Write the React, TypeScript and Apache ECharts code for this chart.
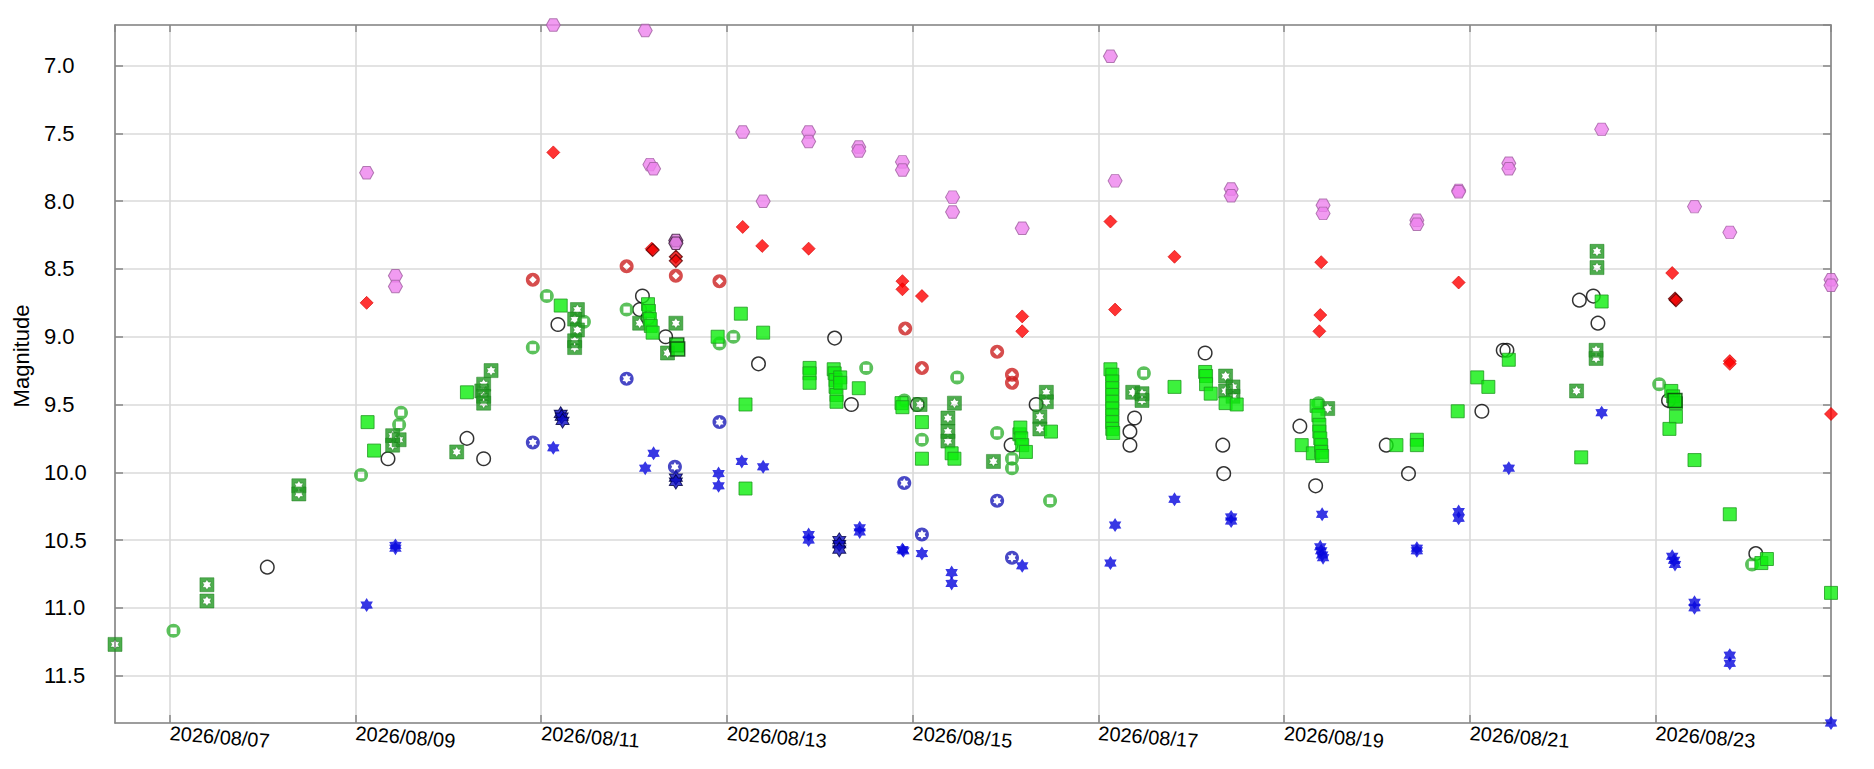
import React, { useEffect, useRef } from "react";
import * as echarts from "echarts";

// Observations as [August day 2026 (UT, decimal), magnitude]

// Visual estimates (black open circles)
const visualObs: [number, number][] = [
  [8.05, 10.7], [9.35, 9.9], [10.2, 9.75], [10.38, 9.9], [11.18, 8.91], [12.09, 8.7], [12.06, 8.8],
  [12.15, 8.86], [12.34, 9.0], [13.34, 9.2], [14.16, 9.01], [14.34, 9.5], [15.05, 9.5], [16.06, 9.8],
  [16.33, 9.5], [17.39, 9.6], [17.34, 9.7], [17.34, 9.8], [18.15, 9.12], [18.34, 9.8], [18.35, 10.01],
  [19.17, 9.66], [19.34, 10.1], [20.1, 9.8], [20.34, 10.01], [21.13, 9.55], [21.36, 9.1], [21.4, 9.1],
  [22.18, 8.73], [22.33, 8.7], [22.38, 8.9], [23.14, 9.47], [24.08, 10.6],
];

// I band (violet hexagons)
const iHex: [number, number][] = [
  [9.12, 7.79], [9.43, 8.55], [9.43, 8.63], [11.13, 6.7], [12.12, 6.74], [12.17, 7.73], [12.21, 7.76],
  [13.17, 7.49], [13.88, 7.49], [13.88, 7.56], [14.42, 7.6], [14.42, 7.63], [14.89, 7.71], [14.89, 7.77],
  [15.43, 7.97], [15.43, 8.08], [13.39, 8.0], [16.18, 8.2], [17.13, 6.93], [17.18, 7.85], [18.43, 7.91],
  [18.43, 7.96], [19.42, 8.03], [19.42, 8.09], [20.43, 8.14], [20.43, 8.17], [20.88, 7.92], [20.88, 7.93],
  [21.42, 7.72], [21.42, 7.76], [22.42, 7.47], [23.42, 8.04], [23.8, 8.23], [24.89, 8.58], [24.89, 8.62],
];
const iHexDark: [number, number][] = [[12.45, 8.29], [12.45, 8.31]];

// R band (red diamonds)
const rDiamond: [number, number][] = [
  [9.12, 8.75], [11.13, 7.64], [12.19, 8.35], [13.17, 8.19], [13.38, 8.33], [13.88, 8.35], [14.89, 8.59],
  [14.89, 8.65], [15.1, 8.7], [16.18, 8.85], [16.18, 8.96], [17.13, 8.15], [17.18, 8.8], [17.82, 8.41],
  [19.4, 8.45], [19.39, 8.84], [19.38, 8.96], [20.88, 8.6], [23.18, 8.53], [23.8, 9.18], [23.8, 9.2],
  [24.89, 9.57],
];
const rDiamondDark: [number, number][] = [[12.2, 8.36], [12.45, 8.41], [12.45, 8.44], [23.21, 8.72], [23.22, 8.73]];

// R band, other source (red rings)
const rRing: [number, number][] = [
  [10.91, 8.58], [11.92, 8.48], [12.45, 8.55], [12.92, 8.59], [14.92, 8.94], [15.1, 9.23], [15.91, 9.11],
  [16.07, 9.28], [16.07, 9.34],
];

// V band, other source (green rings)
const vRing: [number, number][] = [
  [7.04, 11.17], [9.06, 10.02], [9.47, 9.65], [9.49, 9.56], [10.91, 9.08], [11.06, 8.7], [11.46, 8.89],
  [11.92, 8.8], [12.92, 9.05], [13.07, 9.0], [14.5, 9.23], [14.91, 9.47], [15.1, 9.76], [15.48, 9.3],
  [15.91, 9.71], [16.07, 9.9], [16.07, 9.97], [16.48, 10.21], [17.49, 9.27], [19.37, 9.49], [23.04, 9.35],
  [24.04, 10.68],
];

// V band, CCD (green squares with star)
const vStarSquare: [number, number][] = [
  [6.41, 11.27], [7.4, 10.83], [7.4, 10.95], [8.39, 10.1], [8.39, 10.16], [9.4, 9.73], [9.4, 9.8],
  [9.47, 9.76], [10.09, 9.85], [10.36, 9.4], [10.38, 9.35], [10.38, 9.44], [10.38, 9.49], [10.46, 9.25],
  [11.39, 8.8], [11.36, 8.87], [11.39, 8.95], [11.36, 9.03], [11.36, 9.08], [12.06, 8.9], [12.45, 8.9],
  [12.36, 9.12], [15.08, 9.5], [15.38, 9.6], [15.38, 9.7], [15.38, 9.77], [15.45, 9.49], [15.87, 9.92],
  [16.37, 9.59], [16.37, 9.68], [16.44, 9.41], [16.44, 9.48], [17.37, 9.41], [17.47, 9.42], [17.47, 9.47],
  [18.37, 9.29], [18.37, 9.4], [18.45, 9.37], [18.45, 9.44], [19.47, 9.53], [22.15, 9.4], [22.37, 8.37],
  [22.37, 8.49], [22.36, 9.1], [22.36, 9.16],
];

// V band (filled green squares)
const vSquare: [number, number][] = [
  [9.13, 9.63], [9.2, 9.84], [10.2, 9.41], [11.21, 8.77], [12.15, 8.76], [12.16, 8.81], [12.17, 8.87],
  [12.18, 8.92], [12.2, 8.97], [12.9, 9.0], [13.15, 8.83], [13.39, 8.97], [13.2, 9.5], [13.2, 10.12],
  [13.89, 9.23], [13.89, 9.27], [13.89, 9.34], [14.15, 9.24], [14.16, 9.27], [14.17, 9.32], [14.17, 9.37],
  [14.18, 9.43], [14.18, 9.48], [14.22, 9.3], [14.22, 9.34], [14.42, 9.38], [14.88, 9.49], [14.89, 9.52],
  [15.1, 9.63], [15.1, 9.9], [15.42, 9.86], [15.45, 9.9], [16.15, 9.72], [16.16, 9.67], [16.17, 9.75],
  [16.18, 9.8], [16.22, 9.85], [16.49, 9.7], [17.13, 9.24], [17.15, 9.28], [17.15, 9.33], [17.15, 9.38],
  [17.15, 9.43], [17.15, 9.48], [17.15, 9.53], [17.15, 9.58], [17.15, 9.63], [17.15, 9.68], [17.16, 9.71],
  [17.82, 9.37], [18.15, 9.26], [18.16, 9.29], [18.16, 9.35], [18.21, 9.42], [18.37, 9.49], [18.49, 9.5],
  [19.19, 9.8], [19.31, 9.86], [19.35, 9.51], [19.37, 9.58], [19.38, 9.65], [19.38, 9.7], [19.39, 9.75],
  [19.4, 9.8], [19.4, 9.85], [19.41, 9.88], [20.21, 9.8], [20.43, 9.76], [20.43, 9.8], [20.87, 9.55],
  [21.08, 9.3], [21.2, 9.37], [21.42, 9.17], [22.2, 9.89], [22.42, 8.74], [23.17, 9.4], [23.19, 9.44],
  [23.22, 9.49], [23.22, 9.59], [23.15, 9.68], [23.42, 9.91], [23.8, 10.31], [24.14, 10.67], [24.2, 10.64],
  [24.89, 10.89],
];
const vSquareDark: [number, number][] = [[12.46, 9.06], [12.47, 9.09], [23.21, 9.47]];

// B band (blue stars)
const bStar: [number, number][] = [
  [9.12, 10.98], [9.43, 10.54], [9.43, 10.56], [11.13, 9.82], [12.21, 9.86], [12.12, 9.97], [12.91, 10.01],
  [12.91, 10.1], [13.16, 9.92], [13.39, 9.96], [13.88, 10.46], [13.88, 10.5], [14.43, 10.41], [14.43, 10.44],
  [14.89, 10.57], [14.9, 10.58], [15.1, 10.6], [15.42, 10.74], [15.42, 10.82], [16.18, 10.69], [17.13, 10.67],
  [17.18, 10.39], [17.82, 10.2], [18.43, 10.33], [18.43, 10.36], [19.41, 10.31], [19.39, 10.55], [19.4, 10.58],
  [19.41, 10.61], [19.42, 10.63], [20.43, 10.56], [20.43, 10.58], [20.88, 10.29], [20.88, 10.34], [21.42, 9.97],
  [22.42, 9.56], [23.18, 10.62], [23.2, 10.65], [23.21, 10.68], [23.42, 10.96], [23.42, 11.0], [23.8, 11.35],
  [23.8, 11.41], [24.89, 11.85],
];
const bStarDark: [number, number][] = [
  [11.21, 9.57], [11.22, 9.59], [11.23, 9.62], [12.45, 10.04], [12.45, 10.07], [14.21, 10.5], [14.21, 10.53],
  [14.21, 10.57],
];

// B band, other source (blue rings)
const bRing: [number, number][] = [
  [10.91, 9.78], [11.92, 9.31], [12.44, 9.96], [12.92, 9.63], [14.91, 10.08], [15.1, 10.46], [15.91, 10.21],
  [16.07, 10.63],
];

const FONT = "'Liberation Sans', Arial, Helvetica, sans-serif";

// ---------- symbol shapes ----------
function circleCW(cx: number, cy: number, r: number) {
  const k = 0.5523 * r;
  return (
    `M${cx},${cy - r} C${cx + k},${cy - r} ${cx + r},${cy - k} ${cx + r},${cy} ` +
    `C${cx + r},${cy + k} ${cx + k},${cy + r} ${cx},${cy + r} ` +
    `C${cx - k},${cy + r} ${cx - r},${cy + k} ${cx - r},${cy} ` +
    `C${cx - r},${cy - k} ${cx - k},${cy - r} ${cx},${cy - r} Z`
  );
}
function starPath(cx: number, cy: number, R: number, r: number, ccw: boolean) {
  const pts: string[] = [];
  for (let i = 0; i < 12; i++) {
    const a = ((-90 + i * 30) * Math.PI) / 180;
    const rad = i % 2 === 0 ? R : r;
    pts.push(`${(cx + rad * Math.cos(a)).toFixed(2)},${(cy + rad * Math.sin(a)).toFixed(2)}`);
  }
  if (ccw) pts.reverse();
  return "M" + pts.join(" L") + " Z";
}
const SYM_RING_SQUARE = "path://" + circleCW(50, 50, 50) + " M27,27 L27,73 L73,73 L73,27 Z";
const SYM_RING_DIAMOND = "path://" + circleCW(50, 50, 50) + " M50,23 L23,50 L50,77 L77,50 Z";
const SYM_RING_STAR = "path://" + circleCW(50, 50, 50) + " " + starPath(50, 50, 34, 20, true);
const SYM_SQUARE_STAR = "path://M0,0 L100,0 L100,100 L0,100 Z " + starPath(50, 50, 38, 22, true);
const SYM_HEX = "path://M0,50 L25,6.7 L75,6.7 L100,50 L75,93.3 L25,93.3 Z";
const SYM_STAR = "path://" + starPath(50, 50, 50, 30, false);

const toXY = (arr: [number, number][]) => arr.map(([d, m]) => [d - 1, m]); // days since Aug 1.0

const allPts = [
  ...visualObs, ...iHex, ...iHexDark, ...rDiamond, ...rDiamondDark, ...rRing, ...vRing, ...vStarSquare,
  ...vSquare, ...vSquareDark, ...bStar, ...bStarDark, ...bRing,
];
const xMin = Math.min(...allPts.map((p) => p[0])) - 1;
const xMax = Math.max(...allPts.map((p) => p[0])) - 1;
const yMin = Math.min(...allPts.map((p) => p[1]));
const yMax = Math.max(...allPts.map((p) => p[1]));

function mk(name: string, data: [number, number][], symbol: string, size: any, itemStyle: any) {
  return {
    type: "scatter",
    name,
    data: toXY(data),
    symbol,
    symbolSize: size,
    itemStyle,
    clip: false,
    silent: true,
    xAxisIndex: 0,
    yAxisIndex: 0,
  };
}

export default function App() {
  const ref = useRef<HTMLDivElement>(null);
  useEffect(() => {
    document.body.style.margin = "0";
    if (!ref.current) return;
    const chart = echarts.init(ref.current, null, { renderer: "svg" });
    const axisLine = { show: true, onZero: false, lineStyle: { color: "#878787", width: 1.6 } };
    const axisTick = { show: true, inside: true, length: 8, lineStyle: { color: "#878787", width: 1.5 } };
    const splitLine = { show: true, lineStyle: { color: "#dadada", width: 1.6 } };
    const dateFmt = (v: number) => {
      if (Math.abs(v - Math.round(v)) > 1e-6) return "";
      const d = Math.round(v) + 1;
      return `2026/08/${d < 10 ? "0" + d : d}`;
    };
    chart.setOption({
      animation: false,
      backgroundColor: "#ffffff",
      grid: { left: 115, right: 43, top: 25, bottom: 46, containLabel: false },
      xAxis: [
        {
          type: "value",
          position: "bottom",
          min: xMin,
          max: xMax,
          minInterval: 2,
          maxInterval: 2,
          axisLine,
          axisTick,
          splitLine,
          axisLabel: {
            show: true,
            rotate: -4.5,
            margin: 10,
            fontSize: 20,
            fontFamily: FONT,
            color: "#000",
            showMinLabel: false,
            showMaxLabel: false,
            formatter: dateFmt,
          },
        },
        {
          type: "value",
          position: "top",
          min: xMin,
          max: xMax,
          minInterval: 2,
          maxInterval: 2,
          axisLine,
          axisTick: { ...axisTick, length: 7 },
          splitLine: { show: false },
          axisLabel: { show: false },
        },
      ],
      yAxis: [
        {
          type: "value",
          position: "left",
          inverse: true,
          min: yMin,
          max: yMax,
          minInterval: 0.5,
          maxInterval: 0.5,
          axisLine,
          axisTick,
          splitLine,
          axisLabel: {
            show: true,
            align: "left",
            margin: 71,
            fontSize: 22,
            fontFamily: FONT,
            color: "#000",
            showMinLabel: false,
            showMaxLabel: false,
            formatter: (v: number) => v.toFixed(1),
          },
        },
        {
          type: "value",
          position: "right",
          inverse: true,
          min: yMin,
          max: yMax,
          minInterval: 0.5,
          maxInterval: 0.5,
          axisLine,
          axisTick,
          splitLine: { show: false },
          axisLabel: { show: false },
        },
      ],
      graphic: [
        {
          type: "text",
          x: 21,
          y: 356,
          rotation: Math.PI / 2,
          style: {
            text: "Magnitude",
            font: `22px ${FONT}`,
            fill: "#000",
            align: "center",
            verticalAlign: "middle",
          },
        },
      ],
      series: [
        mk("Vis", visualObs, "circle", 13.5, { color: "rgba(0,0,0,0)", borderColor: "#000", borderWidth: 1.5 }),
        mk("I", iHex, SYM_HEX, [14, 12.5], { color: "#ee82ee", borderColor: "#a060a0", borderWidth: 1 }),
        mk("I dark", iHexDark, SYM_HEX, [14, 12.5], { color: "#dc78dc", borderColor: "#3a1a3a", borderWidth: 1.2 }),
        mk("R", rDiamond, "diamond", 13, { color: "#ff0000", borderColor: "#d40000", borderWidth: 0.8 }),
        mk("R dark", rDiamondDark, "diamond", 13, { color: "#f00000", borderColor: "#5a0000", borderWidth: 1.2 }),
        mk("R ring", rRing, SYM_RING_DIAMOND, 14, { color: "#cc2020" }),
        mk("V ring", vRing, SYM_RING_SQUARE, 14, { color: "#33b233" }),
        mk("V ccd", vStarSquare, SYM_SQUARE_STAR, 14, { color: "#229a22", borderColor: "#1a7a1a", borderWidth: 0.6 }),
        mk("V", vSquare, "rect", 13, { color: "#0cee0c", borderColor: "#1f9a1f", borderWidth: 1 }),
        mk("V dark", vSquareDark, "rect", 14, { color: "#0adc0a", borderColor: "#0a3a0a", borderWidth: 1.4 }),
        mk("B", bStar, SYM_STAR, [12.5, 14], { color: "#0505dd" }),
        mk("B dark", bStarDark, SYM_STAR, [13, 14.5], { color: "#0a0ac0", borderColor: "#000040", borderWidth: 1 }),
        mk("B ring", bRing, SYM_RING_STAR, 14, { color: "#1a1ab8" }),
      ],
    });
    return () => chart.dispose();
  }, []);
  return <div ref={ref} style={{ width: 1874, height: 769 }} />;
}
